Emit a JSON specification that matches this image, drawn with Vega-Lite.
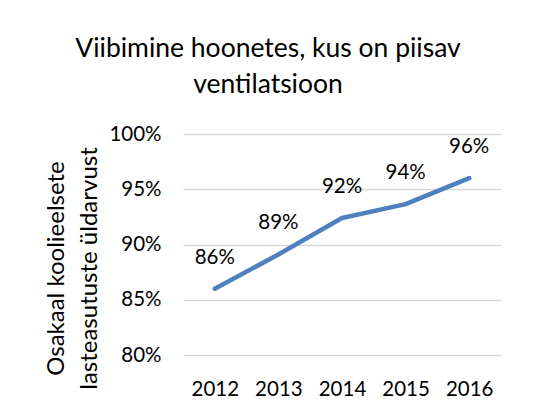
{
  "$schema": "https://vega.github.io/schema/vega-lite/v6.json",
  "width": 318,
  "height": 221,
  "autosize": {"type": "none"},
  "padding": {"left": 183, "top": 134, "right": 35, "bottom": 56},
  "background": "white",
  "title": {
    "text": ["Viibimine hoonetes, kus on piisav", "ventilatsioon"],
    "font": "Lato",
    "fontSize": 26.5,
    "fontWeight": "normal",
    "color": "#000000",
    "anchor": "middle",
    "frame": "group",
    "dx": -74,
    "lineHeight": 36,
    "offset": 26
  },
  "data": {
    "values": [
      {"year": "2012", "share": 0.860},
      {"year": "2013", "share": 0.891},
      {"year": "2014", "share": 0.924},
      {"year": "2015", "share": 0.9365},
      {"year": "2016", "share": 0.960}
    ]
  },
  "encoding": {
    "x": {
      "field": "year",
      "type": "ordinal",
      "scale": {"type": "point", "padding": 0.5},
      "axis": {
        "title": null,
        "labelAngle": 0,
        "domain": false,
        "ticks": false,
        "grid": false,
        "labelFont": "Lato",
        "labelFontSize": 20.5,
        "labelColor": "#000000",
        "labelPadding": 24
      }
    },
    "y": {
      "field": "share",
      "type": "quantitative",
      "scale": {"domain": [0.8, 1.0], "nice": false, "zero": false},
      "axis": {
        "values": [0.8, 0.85, 0.9, 0.95, 1.0],
        "format": ".0%",
        "domain": false,
        "ticks": false,
        "grid": true,
        "gridColor": "#D9D9D9",
        "gridWidth": 1.3,
        "labelFont": "Lato",
        "labelFontSize": 20.5,
        "labelColor": "#000000",
        "labelPadding": 22,
        "title": ["Osakaal koolieelsete", "lasteasutuste üldarvust"],
        "titleFont": "Lato",
        "titleFontSize": 24,
        "titleFontWeight": "normal",
        "titleColor": "#000000",
        "titleLineHeight": 33,
        "titleAngle": -90,
        "titleAlign": "center",
        "titleBaseline": "alphabetic",
        "titleX": -120,
        "titleY": 134
      }
    }
  },
  "layer": [
    {
      "mark": {"type": "line", "color": "#4E7FBF", "strokeWidth": 4.5, "strokeCap": "round", "strokeJoin": "round"}
    },
    {
      "mark": {"type": "text", "font": "Lato", "fontSize": 20.5, "color": "#000000", "baseline": "alphabetic", "dy": -25},
      "encoding": {
        "text": {"field": "share", "type": "quantitative", "format": ".0%"}
      }
    }
  ],
  "config": {"view": {"stroke": null}}
}
